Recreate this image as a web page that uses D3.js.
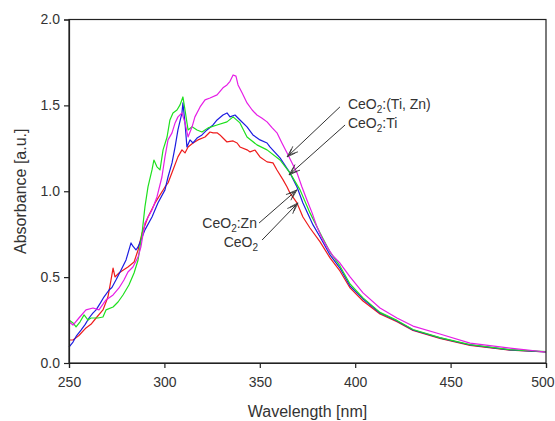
<!DOCTYPE html>
<html><head><meta charset="utf-8">
<script src="https://cdn.jsdelivr.net/npm/d3@7/dist/d3.min.js"></script>
<style>
html,body{margin:0;padding:0;background:#fff;}
svg{display:block;}
text{font-family:"Liberation Sans",Arial,sans-serif;fill:#333;}
</style></head>
<body>
<svg id="chart" width="555" height="421"></svg>
<script>
// ---- Data ----
const xTicks = [250, 300, 350, 400, 450, 500];
const yTicks = [0.0, 0.5, 1.0, 1.5, 2.0];

const ceo2Wl  = [250,252.1,255.2,258.9,261.5,264.2,267.8,270.4,272.0,273.1,274.1,276.2,278.3,280.9,284.1,286.2,288.3,291.4,295.1,300.3,301.9,304.5,307.1,309.2,310.8,312.4,315.0,317.6,321.3,323.9,325.5,327.6,329.1,330.7,332.8,336.0,338.1,339.6,343.3,344.9,347.5,350.1,353.8,356.9,359.0,362.2,364.3,365.8,369.5,372.6,376.3,381.6,386.8,392.0,397.3,404.1,413.0,421.9,430.3,444.4,460.2,481.1,500];
const ceo2Abs = [0.134,0.134,0.160,0.204,0.225,0.262,0.309,0.384,0.483,0.553,0.501,0.524,0.540,0.559,0.588,0.658,0.757,0.850,0.932,1.025,1.048,1.124,1.200,1.241,1.223,1.258,1.281,1.299,1.316,1.345,1.340,1.340,1.328,1.310,1.287,1.293,1.281,1.258,1.241,1.229,1.240,1.200,1.171,1.165,1.124,1.066,1.025,0.990,0.932,0.850,0.786,0.705,0.612,0.536,0.437,0.361,0.285,0.240,0.190,0.143,0.103,0.075,0.064];

const znWl  = [250,252.1,254.0,256.3,258.5,260.5,262.5,264.2,266.5,268.3,271.0,272.5,274.6,277.3,279.9,282.5,283.5,285.1,286.2,287.7,289.8,293.5,296.6,300.3,301.9,304.0,305.6,307.1,309.2,309.7,310.8,311.8,313.4,315.0,317.1,319.7,322.3,325.5,327.6,330.7,332.8,334.4,337.0,339.6,343.3,346.4,350.1,353.8,355.3,360.6,365.8,369.5,372.6,377.9,381.6,386.8,392.0,397.3,404.1,413.0,421.9,430.3,444.4,460.2,481.1,500];
const znAbs = [0.093,0.122,0.160,0.192,0.225,0.262,0.290,0.309,0.350,0.384,0.425,0.440,0.483,0.542,0.600,0.699,0.680,0.658,0.676,0.716,0.775,0.850,0.932,1.008,1.083,1.165,1.258,1.357,1.456,1.514,1.398,1.258,1.299,1.281,1.310,1.328,1.357,1.386,1.415,1.444,1.456,1.433,1.444,1.415,1.375,1.328,1.299,1.281,1.258,1.194,1.107,1.025,0.932,0.804,0.734,0.629,0.553,0.448,0.373,0.291,0.245,0.192,0.146,0.105,0.076,0.064];

const tiWl  = [250,252.1,253.7,255.8,257.9,260.0,261.5,265.2,267.8,269.4,273.1,275.7,278.3,281.4,284.1,286.2,288.3,289.8,291.4,293.5,294.5,296.1,297.7,299.3,301.4,302.9,304.5,306.6,308.2,309.7,310.8,312.4,314.5,317.1,319.7,322.9,327.6,332.8,336.0,339.6,343.3,348.5,353.8,360.6,365.8,371.1,376.3,381.6,386.8,392.0,397.3,404.1,413.0,421.9,430.3,444.4,460.2,481.1,500];
const tiAbs = [0.250,0.233,0.210,0.240,0.280,0.250,0.262,0.262,0.268,0.309,0.326,0.355,0.396,0.454,0.524,0.600,0.757,0.909,1.025,1.124,1.182,1.142,1.124,1.241,1.316,1.415,1.456,1.473,1.503,1.549,1.473,1.357,1.375,1.357,1.345,1.369,1.386,1.404,1.433,1.398,1.316,1.270,1.241,1.182,1.107,1.008,0.874,0.757,0.646,0.565,0.460,0.379,0.295,0.248,0.195,0.148,0.107,0.078,0.066];

const tiZnWl  = [250,252.1,255.2,258.9,262.6,265.7,269.4,273.1,276.2,278.8,280.9,283.5,286.2,287.7,289.8,293.5,296.1,298.7,300.3,301.9,304.0,305.6,307.1,309.2,310.8,312.4,314.5,316.0,318.7,321.3,323.9,327.6,330.7,332.8,334.4,336.0,337.5,338.6,340.7,343.3,346.0,348.5,351.0,353.8,356.4,359.0,361.6,364.3,366.9,369.5,372.1,374.7,377.4,380.0,382.6,385.2,388.4,392.0,397.3,404.1,413.0,421.9,430.3,444.4,460.2,481.1,500];
const tiZnAbs = [0.240,0.221,0.262,0.309,0.320,0.309,0.367,0.396,0.437,0.483,0.530,0.559,0.617,0.676,0.815,0.891,0.967,1.083,1.200,1.299,1.340,1.398,1.433,1.456,1.398,1.316,1.375,1.433,1.491,1.532,1.543,1.561,1.602,1.619,1.640,1.677,1.670,1.619,1.573,1.514,1.473,1.444,1.427,1.404,1.370,1.340,1.281,1.223,1.165,1.107,1.025,0.949,0.874,0.792,0.728,0.676,0.623,0.582,0.501,0.408,0.320,0.262,0.215,0.169,0.116,0.087,0.064];

const seriesNames  = ["CeO2", "CeO2:Zn", "CeO2:Ti", "CeO2:(Ti, Zn)"];
const seriesColors = ["#ee1c1c", "#1c1ce0", "#1ee01e", "#e61ee6"];

// annotations: label main text, suffix, text anchor point, arrow start, arrow tip (data units)
const annoLabels = ["CeO", "CeO", "CeO", "CeO"];
const annoSuffix = [":(Ti, Zn)", ":Ti", ":Zn", ""];
const annoTextPos = [[396.2, 1.479], [396.2, 1.369], [348.5, 0.786], [349.1, 0.676]];
const annoAnchor  = ["start", "start", "end", "end"];
const annoFrom = [[392.0, 1.491], [394.7, 1.386], [349.6, 0.815], [351.2, 0.716]];
const annoTo   = [[364.3, 1.200], [365.3, 1.095], [369.5, 1.008], [370.0, 0.932]];

// ---- Chart ----
const svg = d3.select("#chart");
const L = 69, R = 546, T = 19.5, B = 363;
const x = d3.scaleLinear().domain([250, 500]).range([L, R]);
const y = d3.scaleLinear().domain([0, 2]).range([B, T]);

const series = [
  {wl: ceo2Wl, abs: ceo2Abs},
  {wl: znWl, abs: znAbs},
  {wl: tiWl, abs: tiAbs},
  {wl: tiZnWl, abs: tiZnAbs}
];

const line = d3.line().x(d => x(d[0])).y(d => y(d[1]));
series.forEach((s, i) => {
  const pts = s.wl.map((w, j) => [w, s.abs[j]]);
  svg.append("path").datum(pts)
    .attr("d", line).attr("fill", "none")
    .attr("stroke", seriesColors[i]).attr("stroke-width", 1.2)
    .attr("stroke-linejoin", "round");
});

// frame
svg.append("rect").attr("x", L).attr("y", T).attr("width", R - L).attr("height", B - T)
  .attr("fill", "none").attr("stroke", "#222").attr("stroke-width", 1.2);

const xAxis = svg.append("g").attr("transform", `translate(0,${B})`)
  .call(d3.axisBottom(x).tickValues(xTicks).tickSize(5).tickPadding(9).tickFormat(d3.format("d")));
const yAxis = svg.append("g").attr("transform", `translate(${L},0)`)
  .call(d3.axisLeft(y).tickValues(yTicks).tickSize(5).tickPadding(4).tickFormat(d3.format(".1f")));
[xAxis, yAxis].forEach(g => {
  g.select(".domain").attr("stroke", "#222").attr("stroke-width", 1.2);
  g.selectAll(".tick line").attr("stroke", "#222").attr("stroke-width", 1.2);
  g.selectAll(".tick text").attr("font-size", 14).attr("fill", "#333")
    .attr("font-family", "'Liberation Sans', Arial, sans-serif");
});
// keep the last x label inside the picture
xAxis.selectAll(".tick text").filter(d => d === 500).attr("text-anchor", "end").attr("dx", 8);

svg.append("text").attr("x", (L + R) / 2).attr("y", 417).attr("text-anchor", "middle")
  .attr("font-size", 16).text("Wavelength [nm]");
svg.append("text").attr("transform", `translate(26,${(T + B) / 2}) rotate(-90)`)
  .attr("text-anchor", "middle").attr("font-size", 16).text("Absorbance [a.u.]");

// annotations
annoLabels.forEach((lab, i) => {
  const t = svg.append("text").attr("x", x(annoTextPos[i][0])).attr("y", y(annoTextPos[i][1]))
    .attr("text-anchor", annoAnchor[i]).attr("font-size", 14);
  t.append("tspan").text(lab);
  t.append("tspan").attr("font-size", 10).attr("dy", 4).text("2");
  if (annoSuffix[i]) t.append("tspan").attr("dy", -4).text(annoSuffix[i]);

  const x1 = x(annoFrom[i][0]), y1 = y(annoFrom[i][1]);
  const x2 = x(annoTo[i][0]), y2 = y(annoTo[i][1]);
  svg.append("line").attr("x1", x1).attr("y1", y1).attr("x2", x2).attr("y2", y2)
    .attr("stroke", "#333").attr("stroke-width", 1);
  const ang = Math.atan2(y2 - y1, x2 - x1);
  const hl = 9, hw = 0.32;
  const p = (a, l) => [x2 - l * Math.cos(ang + a), y2 - l * Math.sin(ang + a)];
  const a1 = p(hw, hl), a2 = p(-hw, hl), b1 = p(hw, hl + 3), b2 = p(-hw, hl + 3);
  svg.append("path")
    .attr("d", `M${a1}L${x2},${y2}L${a2}M${b1}L${p(0,3)}L${b2}`)
    .attr("fill", "none").attr("stroke", "#333").attr("stroke-width", 0.9);
});
</script>
</body></html>
